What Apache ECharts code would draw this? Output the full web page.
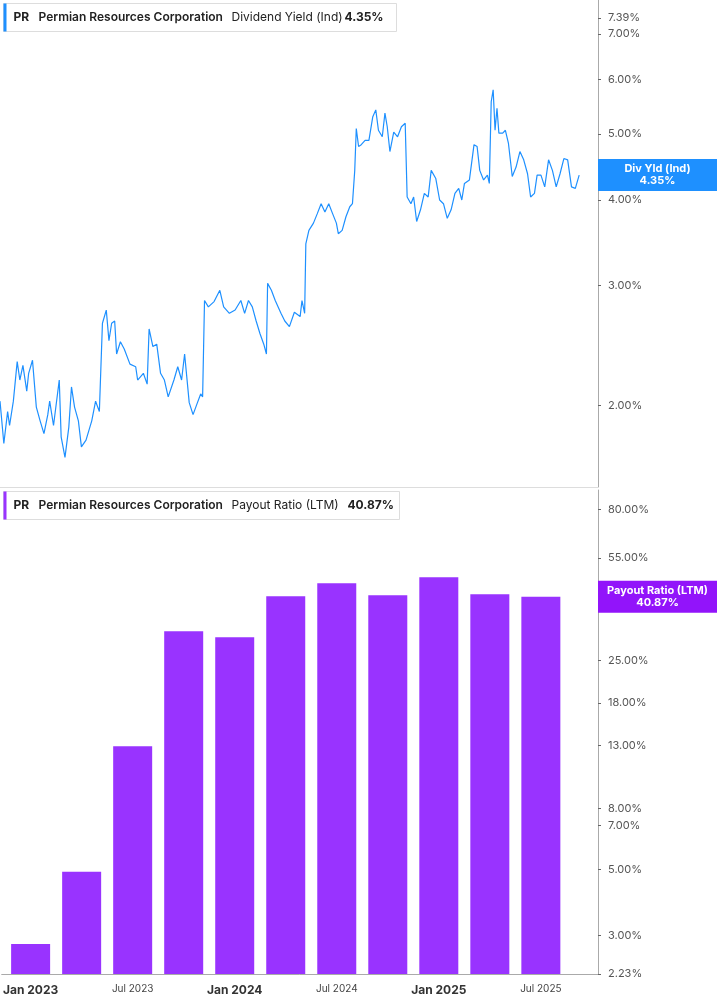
<!DOCTYPE html>
<html><head><meta charset="utf-8">
<script src="https://cdn.jsdelivr.net/npm/echarts@6/dist/echarts.min.js"></script>
<style>html,body{margin:0;padding:0;background:#fff}#main{width:717px;height:1005px}</style>
</head><body><div id="main"></div>
<script>
// x positions are in quarters since Jan 2023
var yldQtr = [-0.567,-0.492,-0.418,-0.380,-0.306,-0.231,-0.179,-0.119,-0.044,-0.007,0.068,0.143,0.217,0.292,0.367,0.404,0.479,0.591,0.628,0.703,0.778,0.830,0.890,0.965,1.024,1.114,1.226,1.301,1.375,1.435,1.510,1.562,1.615,1.674,1.712,1.786,1.861,1.973,2.085,2.123,2.235,2.309,2.347,2.421,2.496,2.571,2.646,2.720,2.832,2.907,2.982,3.041,3.131,3.206,3.281,3.355,3.393,3.430,3.505,3.617,3.729,3.804,3.916,4.028,4.140,4.214,4.289,4.364,4.439,4.513,4.588,4.640,4.663,4.737,4.812,4.924,4.999,5.089,5.186,5.298,5.335,5.387,5.410,5.470,5.559,5.634,5.709,5.783,5.858,5.933,6.007,6.045,6.120,6.194,6.269,6.321,6.366,6.396,6.441,6.493,6.568,6.643,6.717,6.777,6.829,6.904,6.956,7.001,7.053,7.128,7.203,7.278,7.352,7.390,7.464,7.517,7.576,7.651,7.726,7.801,7.860,7.950,8.025,8.100,8.174,8.249,8.324,8.398,8.458,8.510,8.607,8.697,8.757,8.809,8.884,8.959,8.996,9.033,9.071,9.108,9.146,9.183,9.258,9.310,9.370,9.444,9.519,9.594,9.668,9.743,9.803,9.878,9.930,10.005,10.079,10.154,10.229,10.303,10.378,10.453,10.527,10.602,10.677,10.752];
var yldVal = [2.03,1.76,1.96,1.87,2.03,2.32,2.18,2.29,2.10,2.23,2.33,1.99,1.90,1.82,1.94,2.03,1.87,2.18,1.80,1.68,1.86,2.13,1.99,1.90,1.74,1.78,1.90,2.03,1.96,2.64,2.76,2.49,2.64,2.66,2.38,2.48,2.42,2.30,2.28,2.18,2.23,2.15,2.59,2.44,2.46,2.23,2.18,2.06,2.18,2.28,2.18,2.38,2.02,1.94,2.01,2.08,2.06,2.85,2.79,2.84,2.95,2.79,2.73,2.76,2.85,2.73,2.85,2.79,2.66,2.55,2.46,2.38,3.02,2.95,2.85,2.73,2.66,2.61,2.74,2.70,2.85,2.73,3.45,3.61,3.70,3.82,3.95,3.84,3.95,3.82,3.70,3.57,3.61,3.78,3.91,3.95,4.42,5.09,4.79,4.82,4.89,4.89,5.29,5.42,5.06,4.95,5.36,5.12,4.71,5.03,4.95,5.12,5.18,4.04,3.95,4.04,3.72,3.87,4.09,4.04,4.42,4.30,4.00,3.95,3.76,3.87,4.09,4.16,4.00,4.23,4.28,4.82,4.79,4.42,4.28,4.35,4.23,5.57,5.80,5.06,5.45,5.01,5.01,5.06,4.84,4.33,4.47,4.71,4.58,4.37,4.04,4.09,4.35,4.35,4.18,4.58,4.42,4.18,4.37,4.60,4.58,4.18,4.16,4.35];
var payQtr = [0,1,2,3,4,5,6,7,8,9,10];
var payVal = [2.81,4.90,12.9,31.3,29.9,41.0,45.3,41.3,47.5,41.6,40.87];
var xTickQtr = [0,2,4,6,8,10];
var xTickText = ['Jan 2023','Jul 2023','Jan 2024','Jul 2024','Jan 2025','Jul 2025'];
var yldTicks = [2,3,4,5,6,7,7.39];
var payTicks = [2.23,3,5,7,8,13,18,25,40,55,80];

var chart = echarts.init(document.getElementById('main'));
var lineData = yldQtr.map(function(q, i){ return [q, yldVal[i]]; });
var barData = payQtr.map(function(q, i){ return [q, payVal[i]]; });

function yAxisOf(idx, min, max, ticks) {
    return {
        type: 'log', gridIndex: idx, position: 'right', min: min, max: max,
        axisLine: {show: true, onZero: false, lineStyle: {color: '#aaa'}},
        axisTick: {show: true, length: 3, customValues: ticks, lineStyle: {color: '#666'}},
        axisLabel: {customValues: ticks, color: '#555', fontSize: 11, margin: 10,
            fontFamily: 'Inter',
            formatter: function(v){ return Number(v).toFixed(2) + '%'; }},
        splitLine: {show: false}
    };
}

function tag(top, bot, color) {
    return {
        show: true, position: 'end', distance: 0,
        formatter: '{a|' + top + '}\n{a|' + bot + '}',
        backgroundColor: color, padding: [4, 0],
        rich: {a: {width: 119, align: 'center', color: '#fff', fontSize: 11, fontWeight: 'bold', fontFamily: 'Inter', lineHeight: 12}}
    };
}

function header(y, w, color, metric, val) {
    return {type: 'group', left: 3, top: y, children: [
        {type: 'rect', shape: {x: 0, y: 0, width: w, height: 28}, style: {fill: '#fff', stroke: '#ddd'}},
        {type: 'rect', shape: {x: 0, y: 0, width: 3, height: 28}, style: {fill: color}},
        {type: 'text', x: 10, y: 8, style: {text: 'PR', font: 'bold 12px Inter', fill: '#222'}},
        {type: 'text', x: 35, y: 8, style: {text: 'Permian Resources Corporation', font: '600 12px Inter', fill: '#222'}},
        {type: 'text', x: 228, y: 8, style: {text: metric, font: '12px Inter', fill: '#222'}},
        {type: 'text', x: w - 52, y: 8, style: {text: val, font: 'bold 12px Inter', fill: '#222'}}
    ]};
}

option = {
    animation: false,
    grid: [
        {left: 0, right: 119, top: 0, height: 487},
        {left: 0, right: 119, top: 490, bottom: 31}
    ],
    xAxis: [
        {type: 'value', gridIndex: 0, min: -0.567, max: 11.12,
            axisLine: {show: true, onZero: false, lineStyle: {color: '#ddd'}}, axisTick: {show: false},
            axisLabel: {show: false}, splitLine: {show: false}},
        {type: 'value', gridIndex: 1, min: -0.567, max: 11.12,
            axisLine: {show: true, onZero: false, lineStyle: {color: '#aaa'}},
            axisTick: {show: false}, splitLine: {show: false},
            axisLabel: {customValues: xTickQtr, margin: 10,
                formatter: function(v){
                    var t = xTickText[xTickQtr.indexOf(Math.round(v))];
                    return t.indexOf('Jan') === 0 ? '{b|' + t + '}' : '{n|' + t + '}';
                },
                rich: {b: {fontSize: 12, fontWeight: 'bold', color: '#333', fontFamily: 'Inter'},
                       n: {fontSize: 10, color: '#444', fontFamily: 'Inter'}}}}
    ],
    yAxis: [yAxisOf(0, 1.52, 7.85, yldTicks), yAxisOf(1, 2.23, 93, payTicks)],
    graphic: [header(3, 393, '#1e90ff', 'Dividend Yield (Ind)', '4.35%'),
              header(491, 396, '#9933ff', 'Payout Ratio (LTM)', '40.87%')],
    series: [{
        type: 'line', xAxisIndex: 0, yAxisIndex: 0, data: lineData,
        showSymbol: false, lineStyle: {width: 1.2, color: '#1e90ff'}, color: '#1e90ff',
        markLine: {symbol: 'none', silent: true, lineStyle: {color: 'rgba(0,0,0,0)'},
            data: [{yAxis: 4.35}], label: tag('Div Yld (Ind)', '4.35%', '#1e90ff')}
    }, {
        type: 'bar', xAxisIndex: 1, yAxisIndex: 1, data: barData,
        barWidth: 39, itemStyle: {color: '#9933ff'},
        markLine: {symbol: 'none', silent: true, lineStyle: {color: 'rgba(0,0,0,0)'},
            data: [{yAxis: 40.87}], label: tag('Payout Ratio (LTM)', '40.87%', '#9214fa')}
    }]
};
chart.setOption(option);
</script></body></html>
